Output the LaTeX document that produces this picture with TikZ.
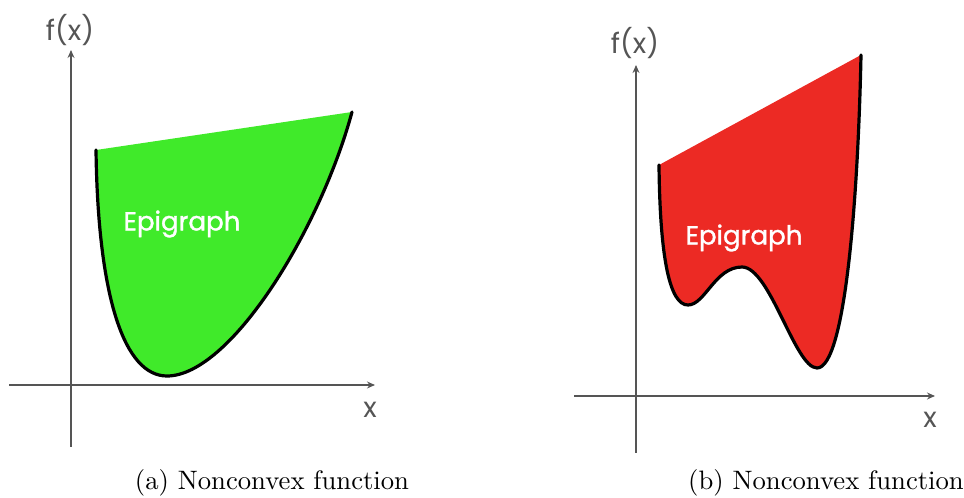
\documentclass[tikz,border=0pt]{standalone}
\usepackage{fontspec}
\newfontfamily\poppins{Poppins}
\newfontfamily\poppinsbold{Poppins}[FakeBold=1.3]
\usetikzlibrary{arrows.meta}
\definecolor{epigreen}{HTML}{40EA2A}
\definecolor{epired}{HTML}{EC2A24}
\definecolor{axisgray}{HTML}{555555}
\tikzset{
  axis/.style={draw=axisgray, line width=0.45pt, -{Stealth[length=3pt,width=2.6pt]}},
  axlabel/.style={text=axisgray, font=\poppins\fontsize{10.5}{12}\selectfont, inner sep=0pt},
  epilabel/.style={text=white, font=\poppinsbold\fontsize{9.8}{12}\selectfont, inner sep=0pt},
  boundary/.style={draw=black, line width=1.2pt, line cap=round},
  caption/.style={font=\fontsize{10}{12}\selectfont, inner sep=0pt}
}
\begin{document}
\begin{tikzpicture}[x=0.375pt,y=-0.375pt]
\useasboundingbox (0,0) rectangle (964,498);
% ---------- left panel ----------
\coordinate (la1) at (9,385);
\coordinate (la2) at (375,385);
\coordinate (lb1) at (71,447);
\coordinate (lb2) at (71,50);
\draw[axis] (la1) -- (la2);
\draw[axis] (lb1) -- (lb2);
\node[axlabel] (lfx) at (70,30) {f(x)};
\node[axlabel] (lx) at (370,410) {x};
\coordinate (lA) at (96,150);
\coordinate (lB) at (167,376);
\coordinate (lC) at (352,112);
\fill[epigreen] (lA) .. controls (98,300) and (125,376) .. (lB)
  .. controls (230,376) and (320,230) .. (lC) -- cycle;
\draw[boundary] (lA) .. controls (98,300) and (125,376) .. (lB)
  .. controls (230,376) and (320,230) .. (lC);
\node[epilabel] (lepi) at (182,224) {Epigraph};
\node[caption] (capa) at (272,483) {(a) Nonconvex function};
% ---------- right panel ----------
\coordinate (ra1) at (574,396);
\coordinate (ra2) at (935,396);
\coordinate (rb1) at (636,453);
\coordinate (rb2) at (636,65);
\draw[axis] (ra1) -- (ra2);
\draw[axis] (rb1) -- (rb2);
\node[axlabel] (rfx) at (635,43) {f(x)};
\node[axlabel] (rx) at (930,420) {x};
\coordinate (rA) at (659,165);
\coordinate (rB) at (688,305);
\coordinate (rC) at (742,267);
\coordinate (rD) at (817,368);
\coordinate (rE) at (861,55);
\fill[epired] (rA) .. controls (660,260) and (670,305) .. (rB)
  .. controls (705,305) and (715,267) .. (rC)
  .. controls (770,267) and (795,368) .. (rD)
  .. controls (845,368) and (858,200) .. (rE) -- cycle;
\draw[boundary] (rA) .. controls (660,260) and (670,305) .. (rB)
  .. controls (705,305) and (715,267) .. (rC)
  .. controls (770,267) and (795,368) .. (rD)
  .. controls (845,368) and (858,200) .. (rE);
\node[epilabel] (repi) at (744,238) {Epigraph};
\node[caption] (capb) at (826,483) {(b) Nonconvex function};
\end{tikzpicture}
\end{document}
